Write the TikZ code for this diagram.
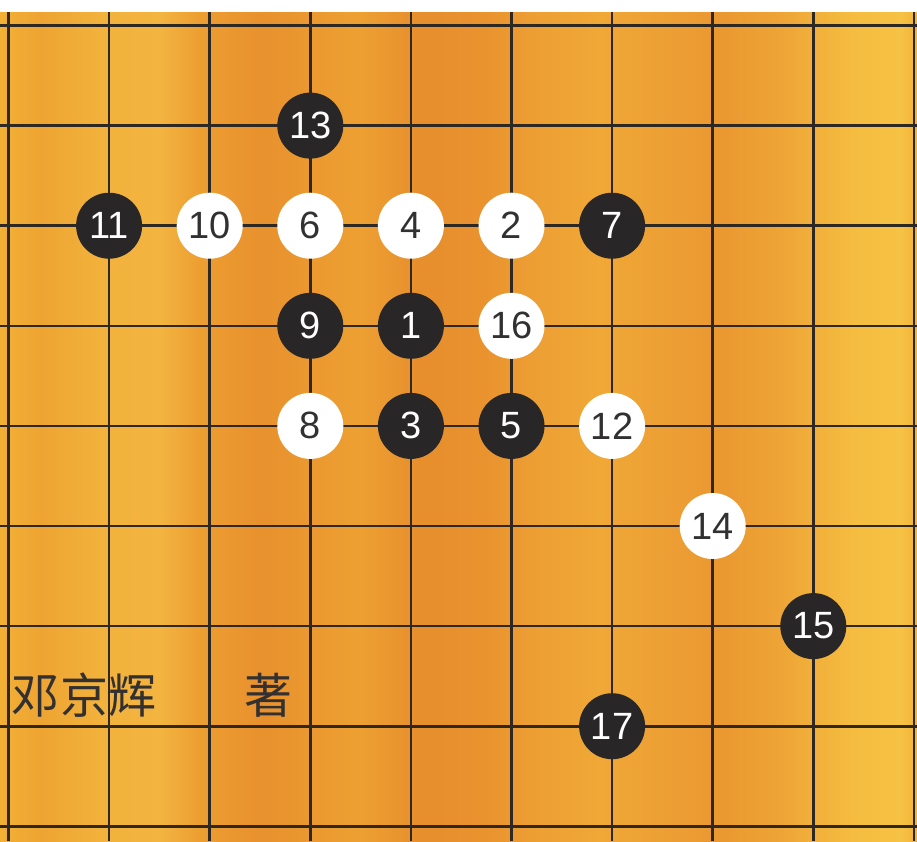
\documentclass[tikz,border=0pt]{standalone}
\usepackage{fontspec}
\setmainfont{Liberation Sans}
\newfontfamily\cjk{Noto Sans CJK SC}
\usepackage{tikz}
\usetikzlibrary{positioning}
\definecolor{gridline}{RGB}{45,40,36}
\definecolor{stoneblack}{RGB}{40,38,38}
\definecolor{digitdark}{RGB}{50,48,48}
\definecolor{woodA}{RGB}{242,176,53}
\definecolor{woodB}{RGB}{238,164,50}
\definecolor{woodC}{RGB}{242,178,60}
\definecolor{woodD}{RGB}{243,180,64}
\definecolor{woodE}{RGB}{237,158,49}
\definecolor{woodF}{RGB}{232,145,46}
\definecolor{woodG}{RGB}{235,154,48}
\definecolor{woodH}{RGB}{237,160,50}
\definecolor{woodI}{RGB}{231,142,45}
\definecolor{woodJ}{RGB}{233,146,46}
\definecolor{woodK}{RGB}{237,160,52}
\definecolor{woodL}{RGB}{240,168,54}
\definecolor{woodM}{RGB}{237,160,53}
\definecolor{woodN}{RGB}{234,152,48}
\definecolor{woodO}{RGB}{238,164,54}
\definecolor{woodP}{RGB}{245,188,64}
\definecolor{woodQ}{RGB}{246,194,68}
\pgfdeclarehorizontalshading{woodgrain}{100bp}{color(0bp)=(woodA); color(25bp)=(woodA);
  color(27.2bp)=(woodB); color(30.5bp)=(woodC); color(33.7bp)=(woodD);
  color(35.9bp)=(woodE); color(39.2bp)=(woodF); color(42.5bp)=(woodG);
  color(44.6bp)=(woodH); color(47.9bp)=(woodI); color(51.2bp)=(woodJ);
  color(54.5bp)=(woodK); color(57.7bp)=(woodL); color(61bp)=(woodM);
  color(64.3bp)=(woodN); color(67.5bp)=(woodO); color(71.4bp)=(woodP);
  color(74.1bp)=(woodQ); color(75bp)=(woodC); color(100bp)=(woodC)}

\begin{document}
\begin{tikzpicture}[x=1pt,y=1pt,
  stone/.style={circle,minimum size=66pt,inner sep=0pt,font=\fontsize{38}{38}\selectfont},
  blackstone/.style={stone,fill=stoneblack,text=white},
  whitestone/.style={stone,fill=white,text=digitdark}]
  \useasboundingbox (0,0) rectangle (917,-841);
  \fill[white] (0,0) rectangle (917,-841);

  % board
  \shade[shading=woodgrain] (0,-12) rectangle (917,-841);

  % grid: 10 lines across, 9 down
  \foreach \c in {0,...,9}
    \draw[gridline,line width=2.6pt] ({8.5+100.6*\c},-12) -- ({8.5+100.6*\c},-841);
  \foreach \r in {0,...,8}
    \draw[gridline,line width=2.6pt] (0,{-25.5-100.1*\r}) -- (917,{-25.5-100.1*\r});

  % stones: move/column/row/colour
  \foreach \n/\c/\r/\sty in {1/4/3/blackstone, 2/5/2/whitestone, 3/4/4/blackstone,
      4/4/2/whitestone, 5/5/4/blackstone, 6/3/2/whitestone, 7/6/2/blackstone,
      8/3/4/whitestone, 9/3/3/blackstone, 10/2/2/whitestone, 11/1/2/blackstone,
      12/6/4/whitestone, 13/3/1/blackstone, 14/7/5/whitestone, 15/8/6/blackstone,
      16/5/3/whitestone, 17/6/7/blackstone}
    \node[\sty] (s\n) at ({8.5+100.6*\c},{-25.5-100.1*\r}) {\n};

  % author line
  \node[font=\cjk\fontsize{48}{48}\selectfont,text=digitdark] (author) at (84,-695) {邓京辉};
  \node[font=\cjk\fontsize{48}{48}\selectfont,text=digitdark] (zhu) at (268,-695) {著};
\end{tikzpicture}
\end{document}
